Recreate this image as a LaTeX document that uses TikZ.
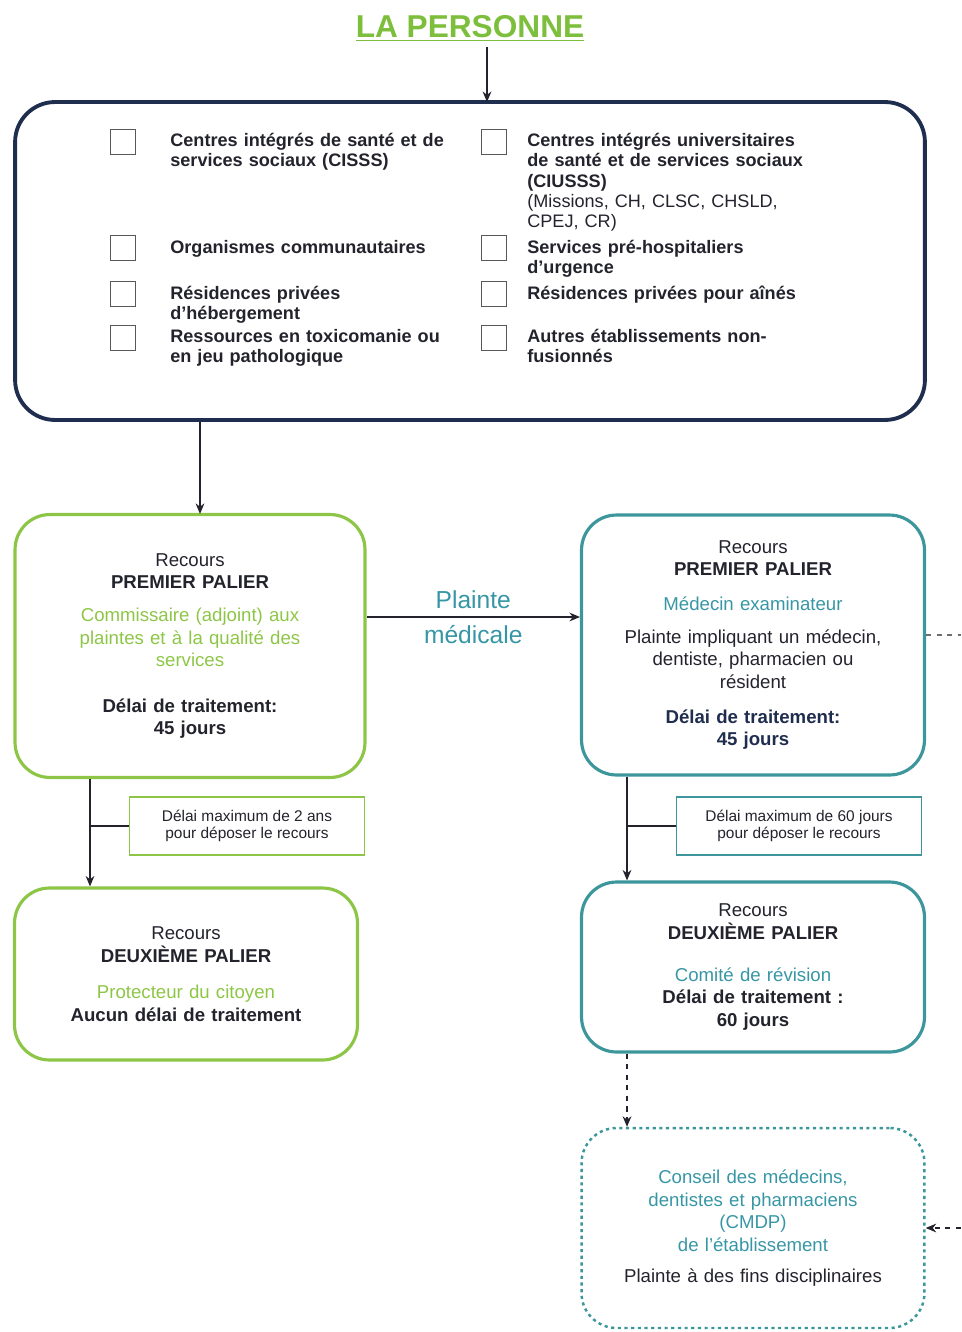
\documentclass[tikz,border=0pt]{standalone}
\usepackage{fontspec}
\setmainfont{Liberation Sans}
\usepackage{tikz}
\usetikzlibrary{arrows.meta, positioning, calc}
\definecolor{mynavy}{RGB}{31,45,78}
\definecolor{mydark}{RGB}{35,35,45}
\definecolor{mylime}{RGB}{141,198,70}
\definecolor{mytitle}{RGB}{125,190,60}
\definecolor{myteal}{RGB}{60,150,155}
\definecolor{mytealtxt}{RGB}{55,150,165}
\definecolor{mygrey}{RGB}{110,110,110}
\tikzset{
  bigbox/.style={rectangle, draw=mynavy, line width=2.2pt,
    rounded corners=0.8cm, minimum width=18.2cm, minimum height=6.36cm},
  tick/.style={rectangle, draw=mygrey!80!black, line width=0.9pt,
    minimum size=0.5cm, inner sep=0pt},
  item/.style={anchor=north west, text width=6.2cm, align=left,
    inner sep=0pt, font=\fontsize{10.3}{11.5}\selectfont\bfseries, text=mydark},
  greenbox/.style={rectangle, draw=mylime, line width=1.8pt,
    rounded corners=0.7cm, text width=6.4cm, align=center,
    font=\fontsize{10.6}{12.8}\selectfont, text=mydark},
  tealbox/.style={rectangle, draw=myteal, line width=1.8pt,
    rounded corners=0.7cm, text width=6.4cm, align=center,
    font=\fontsize{10.6}{12.8}\selectfont, text=mydark},
  dotbox/.style={tealbox, dotted, line width=1.4pt},
  greennote/.style={rectangle, draw=mylime, line width=0.8pt, align=center,
    font=\fontsize{8.8}{9.8}\selectfont, text=mydark},
  tealnote/.style={greennote, draw=myteal},
  arrow/.style={-{Stealth[length=6pt,width=5pt]}, semithick, color=mydark},
  dasharrow/.style={arrow, dashed},
  line/.style={semithick, color=mydark},
  dashline/.style={semithick, dashed, color=mygrey}
}

\begin{document}
\begin{tikzpicture}[x=0.02cm, y=-0.02cm]
  \useasboundingbox (0,0) rectangle (961,1332);

  \node[font=\fontsize{18}{20}\selectfont\bfseries, text=mytitle] (title) at (470,28) {\underline{LA PERSONNE}};

  % etablissements
  \node[bigbox] (etab) at (470,261) {};
  \coordinate (entry) at (487,102);
  \draw[arrow] (title.south -| entry) -- (entry);

  \node[tick] (c1) at (123,142) {};
  \node[tick] (c2) at (123,248) {};
  \node[tick] (c3) at (123,294) {};
  \node[tick] (c4) at (123,338) {};
  \node[tick] (c5) at (494,142) {};
  \node[tick] (c6) at (494,248) {};
  \node[tick] (c7) at (494,294) {};
  \node[tick] (c8) at (494,338) {};

  \node[item] (t1) at (170,133) {Centres intégrés de santé et de\\services sociaux (CISSS)};
  \node[item] (t2) at (170,240) {Organismes communautaires};
  \node[item] (t3) at (170,286) {Résidences privées\\d'hébergement};
  \node[item] (t4) at (170,329) {Ressources en toxicomanie ou\\en jeu pathologique};
  \node[item] (t5) at (527,133) {Centres intégrés universitaires\\de santé et de services sociaux\\(CIUSSS)\\{\mdseries(Missions, CH, CLSC, CHSLD,\\CPEJ, CR)}};
  \node[item] (t6) at (527,240) {Services pré-hospitaliers\\d'urgence};
  \node[item] (t7) at (527,286) {Résidences privées pour aînés};
  \node[item] (t8) at (527,329) {Autres établissements non-\\fusionnés};

  % premier palier
  \node[greenbox, minimum width=7cm, minimum height=5.26cm] (green1) at (190,646) {%
    Recours\\\textbf{PREMIER PALIER}\\[6pt]
    {\color{mylime}Commissaire (adjoint) aux\\plaintes et à la qualité des\\services}\\[13pt]
    \textbf{Délai de traitement:}\\\textbf{45 jours}};
  \node[tealbox, minimum width=6.86cm, minimum height=5.2cm] (teal1) at (753,645) {%
    Recours\\\textbf{PREMIER PALIER}\\[7pt]
    {\color{mytealtxt}Médecin examinateur}\\[6pt]
    Plainte impliquant un médecin,\\dentiste, pharmacien ou\\résident\\[7pt]
    {\color{mynavy}\textbf{Délai de traitement:}\\\textbf{45 jours}}};

  \draw[arrow] (green1.north |- etab.south) ++(10,0) -- ++(0,92);
  \draw[arrow] (green1.east |- 0,617) -- node[above=1pt, font=\fontsize{14}{16}\selectfont, text=mytealtxt] {Plainte}
    node[below=1pt, font=\fontsize{14}{16}\selectfont, text=mytealtxt] {médicale} (teal1.west |- 0,617);

  % notes
  \node[greennote, minimum width=4.7cm, minimum height=1.16cm] (note1) at (247,826) {Délai maximum de 2 ans\\pour déposer le recours};
  \node[tealnote, minimum width=4.9cm, minimum height=1.16cm] (note2) at (799,826) {Délai maximum de 60 jours\\pour déposer le recours};

  % deuxieme palier
  \node[greenbox, minimum width=6.86cm, minimum height=3.44cm] (green2) at (186,974) {%
    Recours\\\textbf{DEUXIÈME PALIER}\\[8pt]
    {\color{mylime}Protecteur du citoyen}\\\textbf{Aucun délai de traitement}};
  \node[tealbox, minimum width=6.86cm, minimum height=3.4cm] (teal2) at (753,967) {%
    Recours\\\textbf{DEUXIÈME PALIER}\\[11pt]
    {\color{mytealtxt}Comité de révision}\\\textbf{Délai de traitement :}\\\textbf{60 jours}};

  \coordinate (g1out) at (90,0);
  \coordinate (t1out) at (627,0);
  \draw[arrow] (green1.south -| g1out) -- (green2.north -| g1out);
  \draw[line] (note1.west) -- (note1.west -| g1out);
  \draw[arrow] (teal1.south -| t1out) -- (teal2.north -| t1out);
  \draw[line] (note2.west) -- (note2.west -| t1out);

  % CMDP
  \node[dotbox, minimum width=6.86cm, minimum height=4cm] (cmdp) at (753,1228) {%
    {\color{mytealtxt}Conseil des médecins,\\dentistes et pharmaciens\\(CMDP)\\de l'établissement}\\[5pt]
    Plainte à des fins disciplinaires};
  \draw[dasharrow] (teal2.south -| t1out) -- (cmdp.north -| t1out);

  \coordinate (edgeA) at (961,635);
  \coordinate (edgeB) at (961,1228);
  \draw[dashline] (teal1.east |- edgeA) -- (edgeA);
  \draw[dasharrow] (edgeB) -- (cmdp.east);
\end{tikzpicture}
\end{document}
